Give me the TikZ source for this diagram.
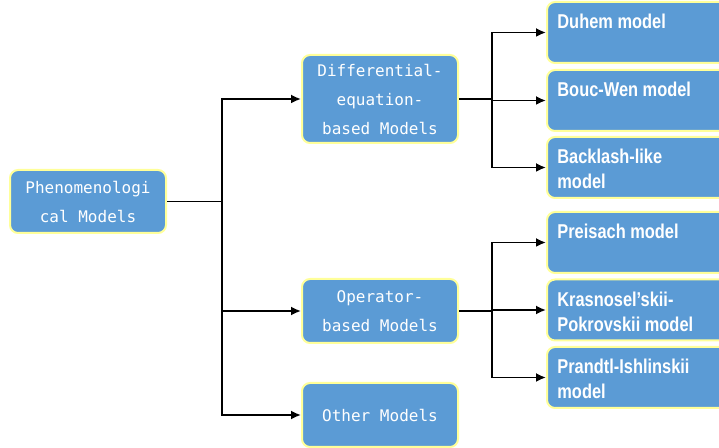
\documentclass[tikz,border=0pt]{standalone}
\usepackage{fontspec}
\usepackage{tikz}
\usetikzlibrary{arrows.meta, positioning}
\newfontfamily\boxmono{DejaVu Sans Mono}
\newfontfamily\leaffont[FakeStretch=0.82]{Liberation Sans}
\definecolor{boxblue}{HTML}{5B9BD5}
\definecolor{boxrim}{HTML}{FFFF99}

\begin{document}
\begin{tikzpicture}[x=0.5pt, y=-0.5pt,
    mbox/.style={draw=boxrim, fill=boxblue, line width=1pt, rounded corners=4pt, minimum width=78pt, align=center, text=white, font=\boxmono\fontsize{8}{14.5}\selectfont},
    leaf/.style={draw=boxrim, fill=boxblue, line width=1pt, rounded corners=4pt, minimum width=94pt, minimum height=30.5pt},
    leaftext/.style={anchor=north west, inner sep=0pt, xshift=5.5pt, yshift=-6.5pt, align=left, text=white, font=\leaffont\bfseries\fontsize{10}{12.5}\selectfont},
    arr/.style={-{Latex[length=5pt,width=4.5pt]}, line width=0.9pt}]
  \useasboundingbox (0,0) rectangle (719,448);
  \clip (0,0) rectangle (719,448);
  % left and middle column
  \node[mbox, minimum height=31.5pt] (phen) at (88,201.5) {Phenomenologi\\cal Models};
  \node[mbox, minimum height=44pt] (diff) at (380,99) {Differential-\\equation-\\based Models};
  \node[mbox, minimum height=32pt] (oper) at (380,311) {Operator-\\based Models};
  \node[mbox, minimum height=32pt] (other) at (380,415) {Other Models};
  % right column
  \node[leaf, label={[leaftext]north west:{Duhem model}}] (duhem) at (641,32.5) {};
  \node[leaf, label={[leaftext]north west:{Bouc-Wen model}}] (boucwen) at (641,100.5) {};
  \node[leaf, label={[leaftext]north west:{Backlash-like\\model}}] (backlash) at (641,167.5) {};
  \node[leaf, label={[leaftext]north west:{Preisach model}}] (preisach) at (641,242.5) {};
  \node[leaf, label={[leaftext]north west:{Krasnosel’skii-\\Pokrovskii model}}] (kp) at (641,310) {};
  \node[leaf, label={[leaftext]north west:{Prandtl-Ishlinskii\\model}}] (pi) at (641,377.5) {};
  % connectors
  \coordinate (split) at ([xshift=27.5pt]phen.east);
  \coordinate (splitdiff) at ([xshift=16.5pt]diff.east);
  \coordinate (splitoper) at ([xshift=16.5pt]oper.east);
  \draw[line width=0.9pt] (phen) -- (split);
  \draw[arr] (split) |- (diff);
  \draw[arr] (split) |- (oper);
  \draw[arr] (split) |- (other);
  \draw[line width=0.9pt] (diff) -- (splitdiff);
  \draw[arr] (splitdiff) |- (duhem);
  \draw[arr] (splitdiff) |- (boucwen);
  \draw[arr] (splitdiff) |- (backlash);
  \draw[line width=0.9pt] (oper) -- (splitoper);
  \draw[arr] (splitoper) |- (preisach);
  \draw[arr] (splitoper) |- (kp);
  \draw[arr] (splitoper) |- (pi);
\end{tikzpicture}
\end{document}
